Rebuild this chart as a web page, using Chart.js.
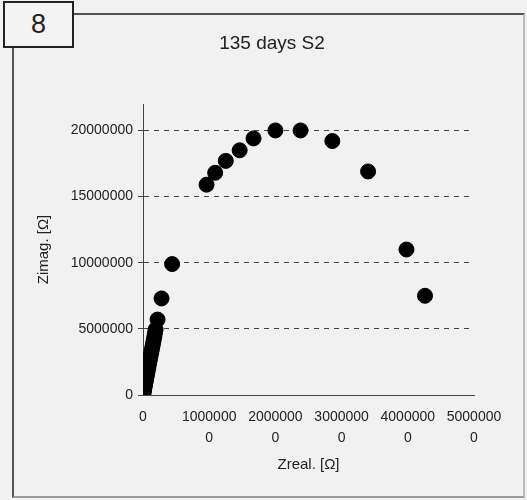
<!DOCTYPE html>
<html lang="en">
<head>
  <meta charset="UTF-8">
  <title>135 days S2</title>
  <script src="https://cdn.jsdelivr.net/npm/chart.js"></script>
  <style>
    body {
      margin: 0;
      width: 527px;
      height: 500px;
      overflow: hidden;
      position: relative;
      background: #f1f1f1;
      font-family: "Liberation Sans", Arial, sans-serif;
    }
    #chart {
      position: absolute;
      left: 0;
      top: 0;
    }
    .frame {
      position: absolute;
      left: 12px;
      top: 13px;
      width: 509px;
      height: 481px;
      border: 2px solid #555;
      border-right-color: #bbb;
      border-bottom-color: #999;
    }
    .badge {
      position: absolute;
      left: 3px;
      top: 1px;
      width: 67px;
      height: 43px;
      border: 2px solid #222;
      background: #f4f4f4;
      color: #222;
      font-size: 27px;
      line-height: 43px;
      text-align: center;
    }
  </style>
</head>
<body>
  <div class="frame"></div>
  <div class="badge">8</div>
  <canvas id="chart" width="544" height="500"></canvas>

  <script>
    // impedance data
    const zReal = [
      0, 15000, 35000, 60000, 85000, 115000, 150000, 190000, 235000, 285000,
      340000, 400000, 465000, 535000, 610000, 690000, 775000, 865000, 960000, 1060000,
      1160000, 1260000, 1370000, 1480000, 1590000, 1700000, 1800000, 1900000,
      2200000, 2800000, 4400000, 9600000, 10900000, 12500000, 14600000, 16700000,
      20000000, 23800000, 28600000, 34000000, 39800000, 42600000
    ];
    const zImag = [
      0, 40000, 95000, 160000, 230000, 310000, 400000, 500000, 610000, 740000,
      880000, 1030000, 1200000, 1380000, 1570000, 1780000, 2000000, 2230000, 2470000, 2720000,
      2980000, 3240000, 3510000, 3790000, 4080000, 4370000, 4660000, 4950000,
      5700000, 7300000, 9900000, 15900000, 16800000, 17700000, 18500000, 19400000,
      20000000, 20000000, 19200000, 16900000, 11000000, 7500000
    ];

    // axis ticks and their labels (x labels wrap like the original)
    const xTicks = [0, 10000000, 20000000, 30000000, 40000000, 50000000];
    const xTickLabels = ['0', ['1000000', '0'], ['2000000', '0'], ['3000000', '0'], ['4000000', '0'], ['5000000', '0']];
    const yTicks = [0, 5000000, 10000000, 15000000, 20000000];
    const yTickLabels = ['0', '5000000', '10000000', '15000000', '20000000'];

    const points = zReal.map((x, i) => ({ x: x, y: zImag[i] }));

    const textColor = '#222';
    const fontFamily = '"Liberation Sans", Arial, sans-serif';

    new Chart(document.getElementById('chart'), {
      type: 'scatter',
      data: {
        datasets: [{
          label: 'Zimag',
          data: points,
          backgroundColor: '#000',
          borderColor: '#000',
          pointRadius: 7.5,
          pointHoverRadius: 7.5
        }]
      },
      options: {
        responsive: false,
        animation: false,
        layout: { padding: 0 },
        plugins: {
          legend: { display: false },
          tooltip: { enabled: false },
          title: {
            display: true,
            text: '135 days S2',
            color: textColor,
            font: { family: fontFamily, size: 19, weight: 'normal', lineHeight: 1.2 },
            padding: { top: 32.6, bottom: 48.6 }
          }
        },
        scales: {
          x: {
            type: 'linear',
            min: 0,
            max: 50000000,
            afterFit: scale => { scale.height = 105; },
            afterBuildTicks: scale => { scale.ticks = xTicks.map(v => ({ value: v })); },
            ticks: {
              color: textColor,
              font: { family: fontFamily, size: 14, lineHeight: 1.5 },
              padding: 12,
              maxRotation: 0,
              autoSkip: false,
              callback: (v) => xTickLabels[xTicks.indexOf(v)]
            },
            grid: { drawOnChartArea: false, drawTicks: false },
            border: { color: '#444', width: 1 },
            title: {
              display: true,
              text: 'Zreal. [Ω]',
              color: textColor,
              font: { family: fontFamily, size: 15, lineHeight: 1.2 },
              padding: { top: 0, bottom: 26 }
            }
          },
          y: {
            type: 'linear',
            min: 0,
            max: 22000000,
            afterFit: scale => { scale.width = 143; },
            afterBuildTicks: scale => { scale.ticks = yTicks.map(v => ({ value: v })); },
            ticks: {
              color: textColor,
              font: { family: fontFamily, size: 14 },
              padding: 5,
              autoSkip: false,
              callback: (v) => yTickLabels[yTicks.indexOf(v)]
            },
            grid: { color: '#444', lineWidth: 1, tickLength: 5 },
            border: { color: '#444', width: 1, dash: [5, 5] },
            title: {
              display: true,
              text: 'Zimag. [Ω]',
              color: textColor,
              font: { family: fontFamily, size: 15, lineHeight: 1.2 },
              padding: { top: 35, bottom: 0 }
            }
          },
          // empty right-hand spacer so the plot ends where the original does
          spacer: {
            type: 'linear',
            position: 'right',
            afterFit: scale => { scale.width = 70; },
            ticks: { display: false },
            grid: { display: false },
            border: { display: false }
          }
        }
      }
    });
  </script>
</body>
</html>
